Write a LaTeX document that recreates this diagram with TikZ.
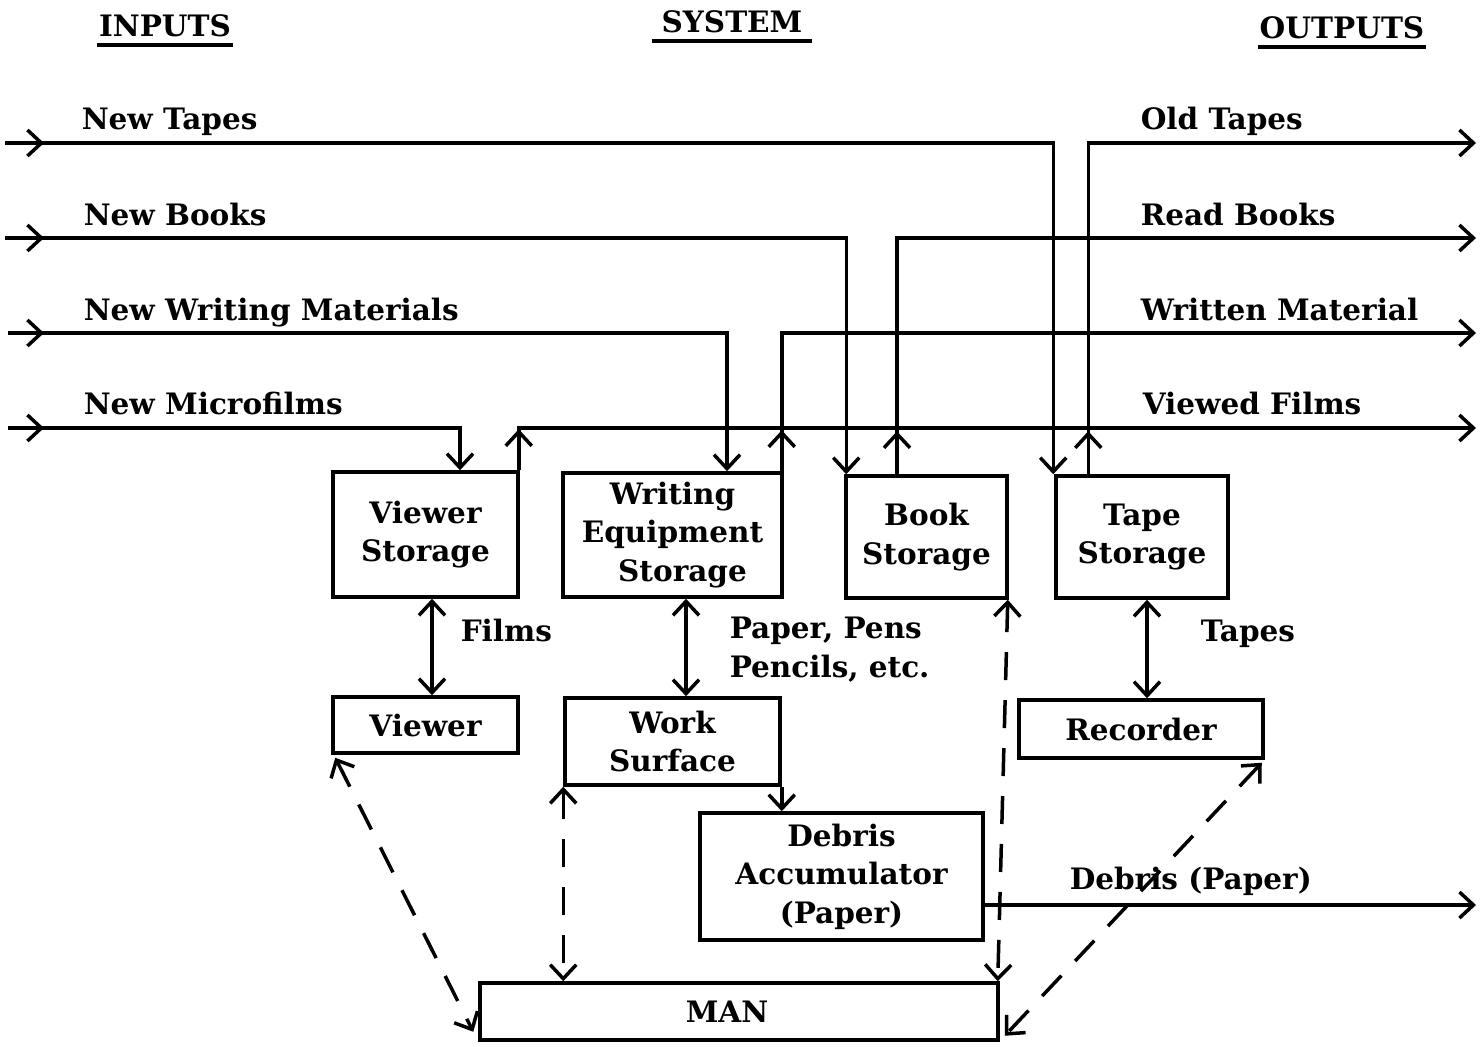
\documentclass[tikz,border=0pt]{standalone}
\usepackage{fontspec}
\setmainfont{DejaVu Serif}
\usetikzlibrary{arrows.meta,positioning}
\newcommand{\dfont}{\fontsize{29.5}{38.5}\bfseries\selectfont}
\tikzset{
  box/.style={draw, line width=3.5pt, align=center, inner sep=0pt, font=\dfont},
  lbl/.style={font=\dfont, inner sep=0pt},
  tip/.tip={Straight Barb[length=14pt,width=26pt,line width=3.5pt]},
  flow/.style={-tip},
  both/.style={tip-tip},
  dsh/.style={dash pattern=on 28pt off 20pt},
}
\begin{document}
\begin{tikzpicture}[x=1pt,y=-1pt,line width=3.5pt]
\useasboundingbox (0,0) rectangle (1482,1046);
% headers
\node[lbl] (hin) at (165,26) {INPUTS};
\node[lbl] (hsys) at (732,22) {SYSTEM};
\node[lbl] (hout) at (1342,28) {OUTPUTS};
\draw ([yshift=-6pt]hin.south west) -- ([yshift=-6pt]hin.south east);
\draw ([yshift=-6pt,xshift=-8pt]hsys.south west) -- ([yshift=-6pt,xshift=8pt]hsys.south east);
\draw ([yshift=-6pt]hout.south west) -- ([yshift=-6pt]hout.south east);
% boxes
\node[box, minimum width=185pt, minimum height=125pt] (vs) at (425.5,534.5) {Viewer\\Storage};
\node[box, minimum width=219pt, minimum height=124pt] (wes) at (672.5,535) {Writing\\Equipment\\\hspace*{20pt}Storage};
\node[box, minimum width=161pt, minimum height=122pt] (bs) at (926.5,537) {Book\\Storage};
\node[box, minimum width=172pt, minimum height=122pt] (ts) at (1142,537) {Tape\\Storage};
\node[box, minimum width=185pt, minimum height=56pt] (vw) at (425.5,725) {Viewer};
\node[box, minimum width=215pt, minimum height=87pt] (ws) at (672.5,741.5) {Work\\Surface};
\node[box, minimum width=244pt, minimum height=58pt] (rec) at (1141,729) {Recorder};
\node[box, minimum width=283pt, minimum height=127pt] (dac) at (841.5,876.5) {Debris\\Accumulator\\(Paper)};
\node[box, minimum width=518pt, minimum height=57pt] (man) at (739,1011.5) {MAN\hspace*{24pt}};
% side coordinates
\coordinate (L1) at (5,143); \coordinate (L1a) at (44,143);
\coordinate (L2) at (5,238); \coordinate (L2a) at (44,238);
\coordinate (L3) at (8,333); \coordinate (L3a) at (44,333);
\coordinate (L4) at (8,428); \coordinate (L4a) at (44,428);
\coordinate (R1) at (1476,143);
\coordinate (R2) at (1476,238);
\coordinate (R3) at (1476,333);
\coordinate (R4) at (1476,428);
\coordinate (R5) at (1476,905);
% input lines
\draw[flow] (L1) -- (L1a);
\draw[flow] (L2) -- (L2a);
\draw[flow] (L3) -- (L3a);
\draw[flow] (L4) -- (L4a);
\draw[flow] (L1) -| ([xshift=-1pt]ts.north west);
\draw[flow] (L2) -| ([xshift=2pt]bs.north west);
\draw[flow] (L3) -| ([xshift=54.5pt]wes.north);
\draw[flow] (L4) -| ([xshift=34.5pt]vs.north);
% output lines
\draw[flow] ([xshift=34pt]ts.north west) |- (R1);
\draw[flow] ([xshift=-29.5pt]bs.north) |- (R2);
\draw[flow] ([xshift=-2pt]wes.north east) |- (R3);
\draw[flow] ([xshift=-1pt]vs.north east) |- (R4);
\draw[flow] ([xshift=34pt]ts.north west) -- ++(0,-43);
\draw[flow] ([xshift=-29.5pt]bs.north) -- ++(0,-43);
\draw[flow] ([xshift=-2pt]wes.north east) -- ++(0,-41);
\draw[flow] ([xshift=-1pt]vs.north east) -- ++(0,-41);
% vertical two-way
\draw[both] ([xshift=6.5pt]vs.south) -- ([xshift=6.5pt]vs.south |- vw.north);
\draw[both] ([xshift=13.5pt]wes.south) -- ([xshift=13.5pt]wes.south |- ws.north);
\draw[both] ([xshift=5pt]ts.south) -- ([xshift=5pt]ts.south |- rec.north);
% work surface to debris
\draw[flow] (ws.south east) -- (ws.south east |- dac.north);
% debris out
\draw[flow] ([yshift=-28.5pt]dac.east) -- (R5);
% dashed
\draw[both,dsh] ([xshift=4pt,yshift=-3pt]vw.south west) -- ([xshift=-5pt,yshift=10pt]man.south west);
\draw[both,dsh] (ws.south west) -- (ws.south west |- man.north);
\draw[both,dsh] ([xshift=-1pt]bs.south east) -- ([xshift=-2pt]man.north east);
\draw[both,dsh] ([xshift=-3pt,yshift=-3pt]rec.south east) -- ([xshift=5pt,yshift=6pt]man.south east);
% labels
\node[lbl, anchor=base west] (t1) at (80,130) {New Tapes};
\node[lbl, anchor=base west] (t2) at (82,225) {New Books};
\node[lbl, anchor=base west] (t3) at (82,320) {New Writing Materials};
\node[lbl, anchor=base west] (t4) at (82,414) {New Microfilms};
\node[lbl, anchor=base west] (o1) at (1139,130) {Old Tapes};
\node[lbl, anchor=base west] (o2) at (1139,225) {Read Books};
\node[lbl, anchor=base west] (o3) at (1139,320) {Written Material};
\node[lbl, anchor=base west] (o4) at (1141,414) {Viewed Films};
\node[lbl, anchor=base west] (fl) at (459,641) {Films};
\node[lbl, anchor=base west, align=left] (pp) at (728,677) {Paper, Pens\\Pencils, etc.};
\node[lbl, anchor=base west] (tp) at (1199,641) {Tapes};
\node[lbl, anchor=base west] (dp) at (1068,889) {Debris (Paper)};
\end{tikzpicture}
\end{document}
